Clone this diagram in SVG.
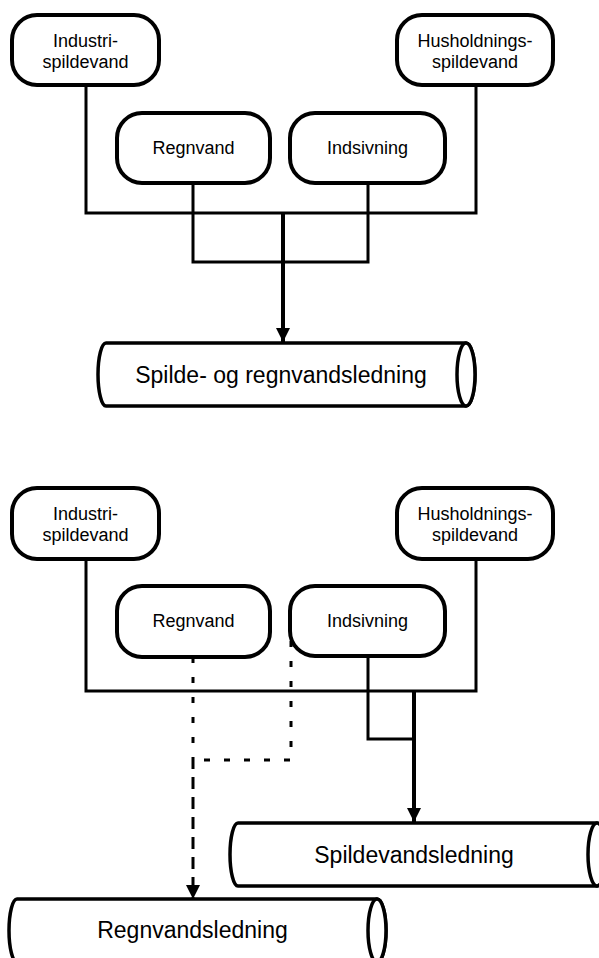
<svg xmlns="http://www.w3.org/2000/svg" width="599" height="958" viewBox="0 0 599 958">
<style>
.box{fill:#fff;stroke:#000;stroke-width:4}
.cyl{fill:#fff;stroke:#000;stroke-width:3.5}
.t{font-family:"Liberation Sans",Arial,sans-serif;font-size:18px;fill:#000;text-anchor:middle}
.tb{font-family:"Liberation Sans",Arial,sans-serif;font-size:23px;fill:#000;text-anchor:middle}
.ln{fill:none;stroke:#000;stroke-width:3}
.sh{fill:none;stroke:#000;stroke-width:4}
.dl{fill:none;stroke:#000;stroke-width:3;stroke-dasharray:6 14}
</style>
<defs>
<marker id="ah" markerUnits="userSpaceOnUse" markerWidth="14" markerHeight="14" refX="14" refY="7" orient="auto">
<path d="M0,0 L14,7 L0,14 z" fill="#000"/>
</marker>
</defs>
<rect width="599" height="958" fill="#fff"/>
<g id="connectors">
<path class="ln" d="M86,85 V213 H476 V85"/>
<path class="ln" d="M193,183 V262 H368 V183"/>
<path class="sh" d="M283,213 V342" marker-end="url(#ah)"/>
<path class="ln" d="M86,559 V691 H476 V559"/>
<path class="ln" d="M368,656 V739 H414"/>
<path class="sh" d="M414,691 V822" marker-end="url(#ah)"/>
<path class="dl" d="M193,657 V899" marker-end="url(#ah)"/>
<path class="dl" d="M291,641 V760 H193 V899"/>
</g>
<g id="industri1"><rect class="box" x="12" y="15" width="147" height="70" rx="25"/><text class="t" x="85.5" y="46.5">Industri-</text><text class="t" x="85.5" y="67.5">spildevand</text></g>
<g id="hushold1"><rect class="box" x="397" y="15" width="156" height="70" rx="25"/><text class="t" x="475" y="46.5">Husholdnings-</text><text class="t" x="475" y="67.5">spildevand</text></g>
<g id="regnvand1"><rect class="box" x="117" y="113" width="153" height="70" rx="25"/><text class="t" x="193.5" y="154">Regnvand</text></g>
<g id="indsivning1"><rect class="box" x="290" y="113" width="155" height="70" rx="25"/><text class="t" x="367.5" y="154">Indsivning</text></g>
<g id="kombineret"><path class="cyl" d="M106,343 H466 A9,31.5 0 0 1 466,406 H106 A8,31.5 0 0 1 106,343 Z"/><ellipse class="cyl" cx="466" cy="374.5" rx="9" ry="31.5"/><text class="tb" x="281" y="382.5">Spilde- og regnvandsledning</text></g>
<g id="industri2"><rect class="box" x="12" y="488" width="147" height="71" rx="25"/><text class="t" x="85.5" y="519.5">Industri-</text><text class="t" x="85.5" y="540.5">spildevand</text></g>
<g id="hushold2"><rect class="box" x="397" y="488" width="156" height="71" rx="25"/><text class="t" x="475" y="519.5">Husholdnings-</text><text class="t" x="475" y="540.5">spildevand</text></g>
<g id="regnvand2"><rect class="box" x="117" y="586" width="153" height="71" rx="25"/><text class="t" x="193.5" y="627">Regnvand</text></g>
<g id="indsivning2"><rect class="box" x="290" y="586" width="155" height="70" rx="25"/><text class="t" x="367.5" y="627">Indsivning</text></g>
<g id="spildevandsledning"><path class="cyl" d="M238,823 H597 A9,31.5 0 0 1 597,886 H238 A8,31.5 0 0 1 238,823 Z"/><ellipse class="cyl" cx="597" cy="854.5" rx="9" ry="31.5"/><text class="tb" x="414" y="863">Spildevandsledning</text></g>
<g id="regnvandsledning"><path class="cyl" d="M17,899 H377 A9,31.5 0 0 1 377,962 H17 A8,31.5 0 0 1 17,899 Z"/><ellipse class="cyl" cx="377" cy="930.5" rx="9" ry="31.5"/><text class="tb" x="192.5" y="938">Regnvandsledning</text></g>
</svg>
